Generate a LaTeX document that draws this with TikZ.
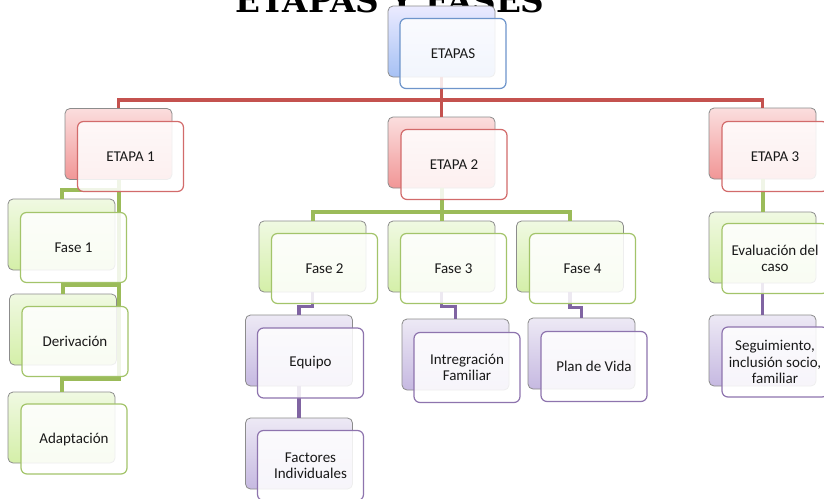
\documentclass[tikz,border=0pt]{standalone}
\usepackage{fontspec}
\newfontfamily\boxfont{Carlito}
\newfontfamily\titlefont{DejaVu Serif}
\definecolor{redln}{HTML}{C4524F}
\definecolor{greenln}{HTML}{9BBB59}
\definecolor{purpleln}{HTML}{8064A2}
\definecolor{bluefrm}{HTML}{6E95CB}
\definecolor{redfrm}{HTML}{D26B6B}
\definecolor{greenfrm}{HTML}{A3C46A}
\definecolor{purplefrm}{HTML}{8E74AE}
\tikzset{
  backbox/.style={rounded corners=5pt, minimum width=107pt, minimum height=71pt, inner sep=0pt, draw=black!45, line width=0.8pt},
  bluebk/.style={backbox, top color=blue!8!white, bottom color={rgb,255:red,166;green,193;blue,244}},
  redbk/.style={backbox, top color={rgb,255:red,251;green,222;blue,222}, bottom color={rgb,255:red,241;green,150;blue,150}},
  greenbk/.style={backbox, top color={rgb,255:red,240;green,249;blue,226}, bottom color={rgb,255:red,212;green,239;blue,168}},
  purplebk/.style={backbox, top color={rgb,255:red,237;green,233;blue,245}, bottom color={rgb,255:red,198;green,185;blue,225}},
  frontbox/.style={rounded corners=6pt, minimum width=106pt, minimum height=70pt, inner sep=2pt, fill=white, fill opacity=0.86, text opacity=1, line width=1.2pt, align=center, font=\boxfont\fontsize{15}{16.5}\selectfont, text=black!90},
  bluefr/.style={frontbox, draw=bluefrm},
  redfr/.style={frontbox, draw=redfrm},
  greenfr/.style={frontbox, draw=greenfrm},
  purplefr/.style={frontbox, draw=purplefrm},
  redconn/.style={draw=redln, line width=3.6pt},
  greenconn/.style={draw=greenln, line width=4pt},
  purpleconn/.style={draw=purpleln, line width=3.6pt},
}
\begin{document}
\begin{tikzpicture}[x=1pt, y=-1pt]
\useasboundingbox (0,0) rectangle (824,498);
\clip (0,0) rectangle (824,498);
\fill[white] (0,0) rectangle (824,498);
% title
\node[anchor=base, inner sep=0pt] (title) at (390,12) {\resizebox{309pt}{!}{\titlefont\bfseries ETAPAS Y FASES}};
% back boxes
\node[bluebk] (topb) at (441.5,41.5) {};
\node[redbk] (e1b) at (118.5,144) {};
\node[redbk] (e2b) at (441.5,152.5) {};
\node[redbk] (e3b) at (762.5,143.5) {};
\node[greenbk] (f1b) at (61.5,234.5) {};
\node[greenbk] (derb) at (63,329.5) {};
\node[greenbk] (adab) at (61.5,427.5) {};
\node[greenbk] (f2b) at (312.5,256.5) {};
\node[greenbk] (f3b) at (441.5,256.5) {};
\node[greenbk] (f4b) at (570,256.5) {};
\node[greenbk] (evb) at (762.5,247.5) {};
\node[purplebk] (eqb) at (299,350.5) {};
\node[purplebk] (fib) at (299,453.5) {};
\node[purplebk] (inb) at (455.5,354.5) {};
\node[purplebk] (plb) at (581.5,353.5) {};
\node[purplebk] (seb) at (762.5,350.5) {};
% red connectors
\coordinate (rj) at (441.5,100);
\draw[redconn] (topb.south) -- (rj) -| (e1b.north);
\draw[redconn] (rj) -| (e3b.north);
\draw[redconn] (rj) -- (e2b.north);
% green connectors
\draw[greenconn] (e1b.south) -- ++(0,10) -| (f1b.north);
\draw[greenconn] (e1b.south) -- ++(0,105) -| (derb.north);
\draw[greenconn] (e1b.south) -- ++(0,199) -| (adab.north);
\coordinate (gj) at (441.5,212);
\draw[greenconn] (e2b.south) -- (gj) -| (f2b.north);
\draw[greenconn] (gj) -| (f4b.north);
\draw[greenconn] (gj) -- (f3b.north);
\draw[greenconn] (e3b.south) -- (evb.north);
% purple connectors
\draw[purpleconn] (f2b.south) -- ++(0,14) -| (eqb.north);
\draw[purpleconn] (eqb.south) -- (fib.north);
\draw[purpleconn] (f3b.south) -- ++(0,14) -| (inb.north);
\draw[purpleconn] (f4b.south) -- ++(0,15) -| (plb.north);
\draw[purpleconn] (evb.south) -- (seb.north);
% front boxes
\node[bluefr] (top) at ([shift={(11.5,12)}]topb.center) {ETAPAS};
\node[redfr] (e1) at ([shift={(12,12.5)}]e1b.center) {ETAPA 1};
\node[redfr] (e2) at ([shift={(12.5,12)}]e2b.center) {ETAPA 2};
\node[redfr] (e3) at ([shift={(12.5,13)}]e3b.center) {ETAPA 3};
\node[greenfr] (f1) at ([shift={(12,13)}]f1b.center) {Fase 1};
\node[greenfr] (der) at ([shift={(12,12)}]derb.center) {Derivación};
\node[greenfr] (ada) at ([shift={(12.5,11.5)}]adab.center) {Adaptación};
\node[greenfr] (f2) at ([shift={(12,12)}]f2b.center) {Fase 2};
\node[greenfr] (f3) at ([shift={(12,12)}]f3b.center) {Fase 3};
\node[greenfr] (f4) at ([shift={(12.5,12)}]f4b.center) {Fase 4};
\node[greenfr] (ev) at ([shift={(12.5,11)}]evb.center) {Evaluación del\\caso};
\node[purplefr] (eq) at ([shift={(11.5,12.5)}]eqb.center) {Equipo};
\node[purplefr] (fi) at ([shift={(11.5,12)}]fib.center) {Factores\\Individuales};
\node[purplefr] (in) at ([shift={(11.5,13)}]inb.center) {Intregración\\Familiar};
\node[purplefr] (pl) at ([shift={(12.5,13)}]plb.center) {Plan de Vida};
\node[purplefr] (se) at ([shift={(12.5,11.5)}]seb.center) {Seguimiento,\\inclusión socio,\\familiar};
\end{tikzpicture}
\end{document}
